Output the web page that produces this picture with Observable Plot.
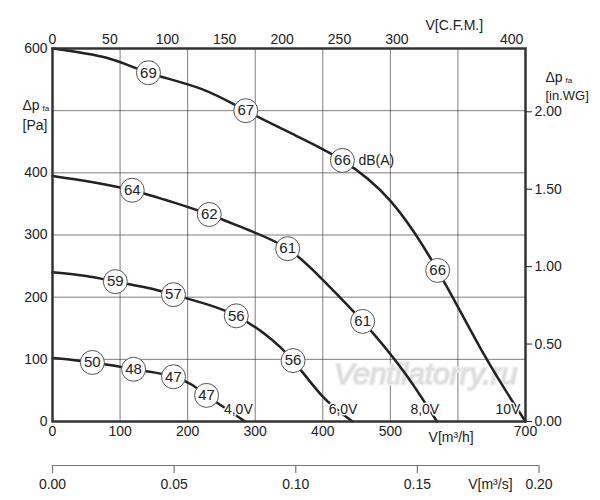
<!DOCTYPE html>
<html><head>
<script src="https://cdn.jsdelivr.net/npm/d3@7"></script>
<script src="https://cdn.jsdelivr.net/npm/@observablehq/plot@0.6"></script>
<style>body{margin:0;background:#fff;font-family:Arial,"Liberation Sans",sans-serif}</style>
</head><body><div id="c"></div>
<script>
// flow m3/h, pressure Pa
const c10 = [[0,600],[80,585],[142,561],[220,535],[286,500],[360,460],[429,420],[500,355],[570,243],[640,105],[700,0]];
const c8  = [[0,395],[60,385],[118,372],[180,352],[232,333],[290,308],[348,278],[400,228],[459,161],[520,80],[569,0]];
const c6  = [[0,240],[50,234],[93,225],[140,215],[179,204],[230,188],[272,170],[315,140],[356,98],[400,40],[444,0]];
const c4  = [[0,102],[30,99],[59,95],[90,90],[120,84],[150,79],[179,72],[205,60],[228,42],[255,22],[285,0]];
const curves = [c10,c8,c6,c4];
const dbLabels = [[142,561,"69"],[286,500,"67"],[429,420,"66"],[570,243,"66"],[118,372,"64"],[232,333,"62"],[348,278,"61"],[459,161,"61"],[93,225,"59"],[179,204,"57"],[272,170,"56"],[356,98,"56"],[59,95,"50"],[120,84,"48"],[179,72,"47"],[228,42,"47"]];
const voltLabels = [[275,20,"4,0V"],[430,20,"6,0V"],[551,20,"8,0V"],[674,20,"10V"]];
const xTicks = [0,100,200,300,400,500,700];
const yTicks = [0,100,200,300,400,600];
const cfmTicks = [0,50,100,150,200,250,300,400];
const m3sTicks = [0,0.05,0.10,0.15,0.20];
const inwgTicks = [0,0.5,1.0,1.5,2.0];
const CFM = 1.699, M3S = 3600, INWG = 249.09;

const plot = Plot.plot({
  width: 600, height: 500,
  marginLeft: 52, marginRight: 75, marginTop: 48, marginBottom: 79,
  style: {fontFamily: "Arial, 'Liberation Sans', sans-serif", fontSize: "14px", color: "#222"},
  x: {type: "linear", domain: [0,700]},
  y: {type: "linear", domain: [0,600]},
  marks: [
    Plot.gridX(d3.range(100,700,100), {stroke: "#333", strokeOpacity: 0.8, strokeWidth: 0.8}),
    Plot.gridY(d3.range(100,600,100), {stroke: "#333", strokeOpacity: 0.8, strokeWidth: 0.8}),
    Plot.text(["Ventilatorry.ru"], {frameAnchor: "bottom-right", dx: -8, dy: -38, fontSize: 30, fontStyle: "italic", fill: "#ddd", stroke:"#eee"}),
    ...curves.map(c => Plot.line(c, {x: d => d[0], y: d => d[1], curve: "natural", stroke: "#222", strokeWidth: 2.5})),
    Plot.dot(dbLabels, {x: d=>d[0], y: d=>d[1], r: 12, fill: "white", stroke: "#555", strokeWidth: 1}),
    Plot.text(dbLabels, {x: d=>d[0], y: d=>d[1], text: d=>d[2], fontSize: 15, fill: "#222"}),
    Plot.text([[429,420]], {x: d=>d[0], y: d=>d[1], text: ()=>"dB(A)", dx: 16, textAnchor: "start", fontSize: 14, fill: "#222"}),
    Plot.text(voltLabels, {x: d=>d[0], y: d=>d[1], text: d=>d[2], fontSize: 14, fill: "#222", stroke: "white", strokeWidth: 3}),
    Plot.frame({stroke: "#333", strokeWidth: 2.5}),
    Plot.axisX(xTicks, {anchor: "bottom", tickSize: 0, label: null, fontSize: 14, tickPadding: 5}),
    Plot.axisY(yTicks, {anchor: "left", tickSize: 0, label: null, fontSize: 14, tickPadding: 5}),
    Plot.axisX(cfmTicks.map(t=>t*CFM), {anchor: "top", tickSize: 0, tickPadding: 5, label: null, tickFormat: d=>Math.round(d/CFM), fontSize: 14}),
    Plot.axisY(inwgTicks.map(t=>t*INWG), {anchor: "right", tickSize: 6, tickPadding: 3, label: null, tickFormat: d=>(d/INWG).toFixed(2), fontSize: 14}),
    Plot.ruleY([0], {x1: 0, x2: 0.2*M3S, dy: 44, stroke: "#777", strokeWidth: 1.2, clip: false}),
    Plot.ruleX(m3sTicks, {x: d=>d*M3S, y1: 0, y2: 0, dy: 44, insetBottom: -8, stroke: "#777", strokeWidth: 1.2}),
    Plot.text(m3sTicks, {x: d=>d*M3S, y: 0, dy: 63, text: d=>d.toFixed(2), fontSize: 14, fill:"#222"}),
    Plot.text([0.18], {x: d=>d*M3S, y: 0, dy: 63, text: ()=>"V[m³/s]", fontSize: 14, fill:"#222"}),
    Plot.text([590], {x: d=>d, y: 0, dy: 16, text: ()=>"V[m³/h]", fontSize: 14, fill:"#222"}),
    Plot.text([350*CFM], {x: d=>d, y: 600, dy: -23, text: ()=>"V[C.F.M.]", fontSize: 14, fill:"#222"}),
    Plot.text(["Δp"], {frameAnchor: "top-left", dx: -30, dy: 52, textAnchor: "start", fontSize: 14, fill:"#222"}),
    Plot.text(["fa"], {frameAnchor: "top-left", dx: -10, dy: 57, textAnchor: "start", fontSize: 8, fill:"#222"}),
    Plot.text(["[Pa]"], {frameAnchor: "top-left", dx: -30, dy: 72, textAnchor: "start", fontSize: 14, fill:"#222"}),
    Plot.text(["Δp"], {frameAnchor: "top-right", dx: 20, dy: 24, textAnchor: "start", fontSize: 14, fill:"#222"}),
    Plot.text(["fa"], {frameAnchor: "top-right", dx: 40, dy: 29, textAnchor: "start", fontSize: 8, fill:"#222"}),
    Plot.text(["[in.WG]"], {frameAnchor: "top-right", dx: 20, dy: 42, textAnchor: "start", fontSize: 13, fill:"#222"})
  ]
});
document.getElementById("c").append(plot);
</script></body></html>
